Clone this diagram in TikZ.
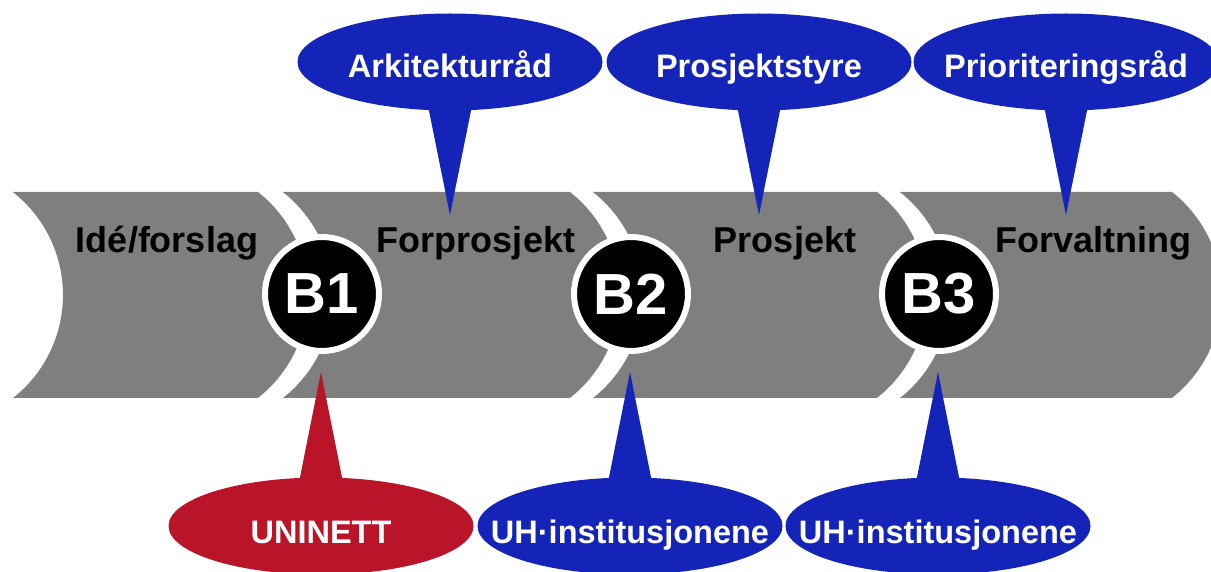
\documentclass[tikz,border=0pt]{standalone}
\usepackage{fontspec}
\setmainfont{Liberation Sans}
\usetikzlibrary{shapes.geometric, calc}
\definecolor{bandgray}{RGB}{127,127,127}
\definecolor{calloutblue}{RGB}{20,36,184}
\definecolor{calloutred}{RGB}{185,20,40}
\newcommand{\chevron}[2]
{
	\fill[bandgray] (#1,192) -- (#2,192) arc[start angle=-51.8, end angle=51.8, radius=131]
	-- (#1,398) arc[start angle=51.8, end angle=-51.8, radius=131] -- cycle
}
\newcommand{\tail}[4]
{
	\fill[#1] ($(#2.#3)!5pt!(#2.center)+(-22,0)$) -- (#4) -- ($(#2.#3)!5pt!(#2.center)+(22,0)$) -- cycle
}

\begin{document}
\begin{tikzpicture}[x=1pt, y=-1pt,
	phase/.style={anchor=base, font=\fontsize{36}{40}\selectfont\bfseries},
	gate/.style={circle, fill=black, draw=white, line width=6pt,
		minimum size=114pt, inner sep=0pt, text=white,
		font=\fontsize{58}{62}\selectfont\bfseries},
	bubble/.style={ellipse, fill=#1, minimum width=305pt,
		minimum height=97pt, inner sep=0pt},
	btext/.style={anchor=base, text=white,
		font=\fontsize{32.5}{36}\selectfont\bfseries}]

	\useasboundingbox (0,0) rectangle (1211,572);
	\clip (0,0) rectangle (1211,572);

	% the band
	\chevron{13}{258};
	\chevron{283}{570};
	\chevron{593}{877};
	\chevron{900}{1172};

	\node[phase] at (167,253) (S1){Idé/forslag};
	\node[phase] at (476,253) (S2){Forprosjekt};
	\node[phase] at (785,253) (S3){Prosjekt};
	\node[phase] at (1093,253) (S4){Forvaltning};

	\node[gate] at (322,294) (B1){B1};
	\node[gate] at (631,294) (B2){B2};
	\node[gate] at (939,294) (B3){B3};

	% callouts above
	\node[bubble=calloutblue] at (450,62) (C1){};
	\node[bubble=calloutblue] at (759,62) (C2){};
	\node[bubble=calloutblue] at (1066,62) (C3){};
	\coordinate (T1) at (450,215);
	\coordinate (T2) at (759,215);
	\coordinate (T3) at (1066,215);
	\tail{calloutblue}{C1}{south}{T1};
	\tail{calloutblue}{C2}{south}{T2};
	\tail{calloutblue}{C3}{south}{T3};
	\node[btext] at ([yshift=-16pt]C1.center) {Arkitekturråd};
	\node[btext] at ([yshift=-16pt]C2.center) {Prosjektstyre};
	\node[btext] at ([yshift=-16pt]C3.center) {Prioriteringsråd};

	% callouts below
	\node[bubble=calloutred] at (321,526) (U1){};
	\node[bubble=calloutblue] at (630,526) (U2){};
	\node[bubble=calloutblue] at (938,526) (U3){};
	\coordinate (R1) at (321,372);
	\coordinate (R2) at (630,372);
	\coordinate (R3) at (938,372);
	\tail{calloutred}{U1}{north}{R1};
	\tail{calloutblue}{U2}{north}{R2};
	\tail{calloutblue}{U3}{north}{R3};
	\node[btext] at ([yshift=-17pt]U1.center) {UNINETT};
	\node[btext] at ([yshift=-17pt]U2.center) {UH·institusjonene};
	\node[btext] at ([yshift=-17pt]U3.center) {UH·institusjonene};
\end{tikzpicture}
\end{document}
